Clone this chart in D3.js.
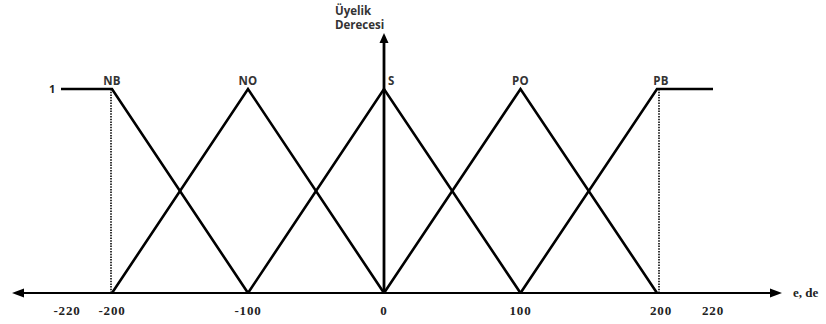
<!DOCTYPE html>
<html><head><meta charset="utf-8">
<script src="https://cdn.jsdelivr.net/npm/d3@7"></script>
<style>body{margin:0;background:#fff}svg{display:block}</style>
</head><body>
<svg id="c" width="826" height="324"></svg>
<script>
// Data
const tickValues = [-220, -200, -100, 0, 100, 200, 220];
const setNames = ["NB", "NO", "S", "PO", "PB"];
const setPoints = [
  [[-220, 1], [-200, 1], [-100, 0]],
  [[-200, 0], [-100, 1], [0, 0]],
  [[-100, 0], [0, 1], [100, 0]],
  [[0, 0], [100, 1], [200, 0]],
  [[100, 0], [200, 1], [220, 1]]
];
const labelAt = [-200, -100, 0, 100, 200];
const dottedAt = [-200, 200];
const yLabel = ["Üyelik", "Derecesi"];
const xLabel = "e, de";

const svg = d3.select("#c");
const x = d3.scaleLinear().domain([-220, -200, 0, 200, 220]).range([61, 112, 384, 657, 713]);
const y = d3.scaleLinear().domain([0, 1]).range([293, 89]);

// dotted verticals
svg.selectAll(".dot").data(dottedAt).join("line")
  .attr("x1", d => x(d) - (d < 0 ? 1 : -2)).attr("x2", d => x(d) - (d < 0 ? 1 : -2))
  .attr("y1", y(1)).attr("y2", y(0))
  .attr("stroke", "#222").attr("stroke-width", 1.8).attr("stroke-dasharray", "1.5,1.2");

// membership lines
const line = d3.line().x(d => x(d[0])).y(d => y(d[1]));
svg.selectAll(".mf").data(setPoints).join("path")
  .attr("d", line).attr("fill", "none").attr("stroke", "#000")
  .attr("stroke-width", 2.6).attr("stroke-linejoin", "miter");

// x axis with arrows
svg.append("line").attr("x1", 20).attr("x2", 774).attr("y1", y(0)).attr("y2", y(0))
  .attr("stroke", "#000").attr("stroke-width", 2.2);
svg.append("path").attr("d", `M12,${y(0)} L24,${y(0)-4.5} L24,${y(0)+4.5} Z`).attr("fill", "#000");
svg.append("path").attr("d", `M782,${y(0)} L770,${y(0)-4.5} L770,${y(0)+4.5} Z`).attr("fill", "#000");

// y axis with arrow
svg.append("line").attr("x1", x(0)).attr("x2", x(0)).attr("y1", y(0)).attr("y2", 40)
  .attr("stroke", "#000").attr("stroke-width", 2.8);
svg.append("path").attr("d", `M${x(0)},33 L${x(0)-4.5},43 L${x(0)+4.5},43 Z`).attr("fill", "#000");

// tick labels
svg.selectAll(".tick").data(tickValues).join("text")
  .attr("x", d => d === -220 ? x(d) + 6 : (d === 200 ? x(d) + 4 : x(d)))
  .attr("y", 315).attr("text-anchor", "middle")
  .attr("font-family", "Liberation Serif").attr("font-weight", "bold")
  .attr("font-size", 13).attr("letter-spacing", 0.8).attr("fill", "#222")
  .text(d => d);

// "1" label
svg.append("text").attr("x", 49).attr("y", y(1) + 4)
  .attr("font-family", "Open Sans").attr("font-weight", "bold").attr("font-size", 11)
  .attr("fill", "#222").text("1");

// set names
svg.selectAll(".nm").data(setNames).join("text")
  .attr("x", (d, i) => d === "S" ? x(labelAt[i]) + 4 : x(labelAt[i]) + (d === "PB" ? 4 : 0))
  .attr("y", 85).attr("text-anchor", (d) => d === "S" ? "start" : "middle")
  .attr("font-family", "Open Sans").attr("font-weight", "bold").attr("font-size", 11.5)
  .attr("letter-spacing", 0.3).attr("fill", "#333").text(d => d);

// y label
svg.selectAll(".yl").data(yLabel).join("text")
  .attr("x", 335).attr("y", (d, i) => 15 + i * 14)
  .attr("font-family", "Open Sans").attr("font-weight", "bold").attr("font-size", 11.5)
  .attr("fill", "#333").text(d => d);

// x label
svg.append("text").attr("x", 793).attr("y", 297)
  .attr("font-family", "Liberation Serif").attr("font-weight", "bold").attr("font-size", 13)
  .attr("fill", "#222").text(xLabel);
</script>
</body></html>
